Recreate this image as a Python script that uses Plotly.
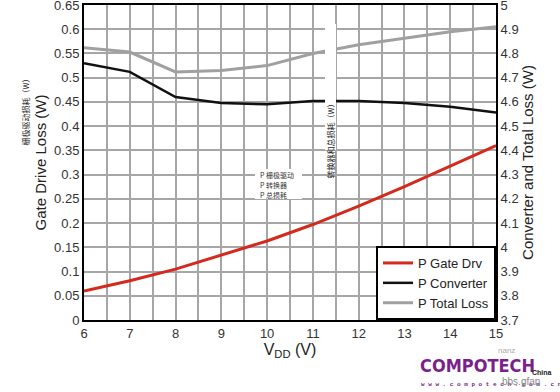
import plotly.graph_objects as go

vdd = [6, 7, 8, 9, 10, 11, 12, 13, 14, 15]
p_gate_drv = [0.060, 0.081, 0.105, 0.134, 0.163, 0.197, 0.235, 0.275, 0.318, 0.360]
p_converter = [4.760, 4.724, 4.620, 4.596, 4.590, 4.604, 4.604, 4.596, 4.580, 4.556]
p_total = [4.824, 4.806, 4.724, 4.730, 4.750, 4.800, 4.836, 4.864, 4.890, 4.910]

left_ticks = [round(i * 0.05, 2) for i in range(14)]
right_ticks = [round(3.7 + i * 0.1, 1) for i in range(14)]
x_grid = [6 + i * 0.5 for i in range(19)]

font = "Liberation Sans, Arial, sans-serif"
cjk = "Noto Sans CJK SC"
grid = "#a6a6a6"

fig = go.Figure()
fig.add_trace(go.Scatter(x=vdd, y=p_gate_drv, mode="lines", name="P Gate Drv",
                         line=dict(color="#d42a1e", width=3)))
fig.add_trace(go.Scatter(x=vdd, y=p_converter, mode="lines", name="P Converter",
                         line=dict(color="#111111", width=2.5), yaxis="y2"))
fig.add_trace(go.Scatter(x=vdd, y=p_total, mode="lines", name="P Total Loss",
                         line=dict(color="#a0a0a0", width=3), yaxis="y2"))

fig.update_layout(
    width=560, height=392,
    margin=dict(l=84, r=64, t=5, b=72, autoexpand=False),
    paper_bgcolor="white", plot_bgcolor="white",
    font=dict(family=font, size=13, color="#333333"),
    showlegend=True,
    legend=dict(x=1, y=0, xanchor="right", yanchor="bottom",
                bgcolor="white", bordercolor="black", borderwidth=2,
                font=dict(size=13, color="#222222"), tracegroupgap=0),
    xaxis=dict(range=[6, 15], tickmode="array", tickvals=x_grid,
               ticktext=[f"{v:g}" if v == int(v) else "" for v in x_grid],
               automargin=False, layer="below traces",
               showgrid=True, gridcolor=grid, gridwidth=1.5,
               showline=True, linecolor="black", linewidth=2, mirror=True,
               zeroline=False, ticks="", ticklabeloverflow="allow",
               title=dict(text="V<sub>DD</sub> (V)", font=dict(size=16, color="#222222"),
                          standoff=2)),
    yaxis=dict(range=[0, 0.65], tickmode="array", tickvals=left_ticks,
               ticktext=[f"{v:g}" for v in left_ticks], automargin=False,
               showgrid=True, gridcolor=grid, gridwidth=1.5,
               showline=True, linecolor="black", linewidth=2, mirror=True,
               zeroline=False, ticks="", ticklabeloverflow="allow",
               title=dict(text="Gate Drive Loss (W)", font=dict(size=15, color="#222222"),
                          standoff=4)),
    yaxis2=dict(range=[3.7, 5.0], overlaying="y", side="right", automargin=False,
                tickmode="array", tickvals=right_ticks,
                ticktext=[f"{v:g}" for v in right_ticks],
                showgrid=False, showline=True, linecolor="black", linewidth=2,
                zeroline=False, ticks="", ticklabeloverflow="allow",
                title=dict(text="Converter and Total Loss (W)",
                           font=dict(size=15, color="#222222"), standoff=4)),
)

W, H = 412, 315
def px(x):
    return (x - 84) / W
def py(y):
    return (320 - y) / H

shapes = [
    dict(type="rect", xref="paper", yref="paper", x0=px(325), x1=px(336),
         y0=py(150), y1=py(24), fillcolor="white", line=dict(width=0), layer="above"),
    dict(type="rect", xref="paper", yref="paper", x0=px(255), x1=px(302),
         y0=py(199), y1=py(169), fillcolor="white", line=dict(width=0), layer="above"),
]
fig.update_layout(shapes=shapes)

ann = []
ann.append(dict(text="转换器和总损耗（W）", xref="paper", yref="paper",
                x=px(330), y=py(98), showarrow=False, textangle=-90,
                font=dict(family=cjk, size=8, color="#222222")))
ann.append(dict(text="栅极驱动损耗（W）", xref="paper", yref="paper",
                x=px(17), y=py(110), showarrow=False, textangle=-90,
                font=dict(family=cjk, size=8, color="#222222")))
for i, t in enumerate(["P 栅极驱动", "P 转换器", "P 总损耗"]):
    ann.append(dict(text=t, xref="paper", yref="paper", xanchor="left",
                    x=px(258), y=py(175 + i * 10), showarrow=False,
                    font=dict(family=cjk, size=7, color="#333333")))
ann.append(dict(text="nanz", xref="paper", yref="paper", xanchor="left",
                yanchor="middle", x=px(496), y=py(350), showarrow=False,
                font=dict(family=font, size=8, color="#aaaaaa")))
ann.append(dict(text="<b>COMPOTECH</b>", xref="paper", yref="paper", xanchor="left",
                yanchor="middle", x=px(418), y=py(365), showarrow=False,
                font=dict(family="DejaVu Sans Condensed, Liberation Sans Narrow, sans-serif",
                          size=18, color="#7a1f8c")))
ann.append(dict(text="<b>China</b>", xref="paper", yref="paper", xanchor="left",
                yanchor="middle", x=px(530), y=py(372), showarrow=False,
                font=dict(family=font, size=7, color="#222222")))
ann.append(dict(text="<b>w w w . c o m p o t e c h . c o m . c n</b>", xref="paper", yref="paper",
                xanchor="left", yanchor="middle", x=px(419), y=py(384), showarrow=False,
                font=dict(family="Liberation Mono, DejaVu Sans Mono", size=6, color="#7a1f8c")))
ann.append(dict(text="bbs.gfan", xref="paper", yref="paper", xanchor="left",
                yanchor="middle", x=px(500), y=py(381), showarrow=False,
                font=dict(family=font, size=10, color="#888888")))
fig.update_layout(annotations=ann)

fig.write_html("out.html", config={"displayModeBar": False},
               post_script="document.body.style.margin='0';document.body.style.padding='0';")
